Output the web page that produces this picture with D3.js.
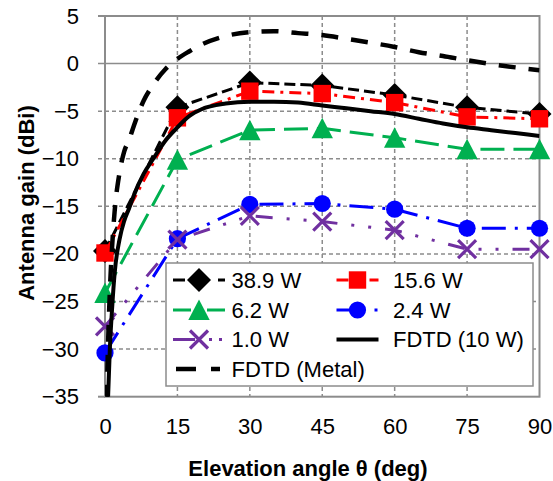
<!DOCTYPE html>
<html><head><meta charset="utf-8">
<script src="https://cdn.jsdelivr.net/npm/d3@7"></script>
<style>
html,body{margin:0;padding:0;background:#fff;}
text{font-family:"Liberation Sans",Arial,sans-serif;}
</style></head>
<body>
<svg id="chart" width="553" height="481"></svg>
<script>
// ---- data ----
const angles = [0, 15, 30, 45, 60, 75, 90];
const gain389 = [-19.7, -4.6, -2.0, -2.3, -3.3, -4.6, -5.3];
const gain156 = [-19.9, -5.7, -2.9, -3.15, -4.1, -5.6, -5.8];
const gain62  = [-24.1, -10.1, -7.0, -6.8, -7.8, -9.0, -9.0];
const gain24  = [-30.4, -18.4, -14.8, -14.7, -15.3, -17.3, -17.3];
const gain10  = [-27.6, -18.5, -16.0, -16.6, -17.5, -19.5, -19.5];

const fdtdAngles = [0, 0.5, 1, 1.5, 2, 3, 4, 5, 6, 8, 10, 12.5, 15, 17.5, 20, 25, 30, 35, 40, 45, 50, 55, 60, 65, 70, 75, 80, 85, 90];
const fdtd10W  = [-45, -37, -30, -25.5, -22, -18.5, -16.5, -15.2, -13.8, -11.6, -10, -8.1, -6.7, -5.5, -4.8, -4.2, -4.0, -4.0, -4.1, -4.4, -4.7, -5.0, -5.3, -5.8, -6.3, -6.7, -7.0, -7.3, -7.6];
const fdtdMetal = [-45, -32, -24, -19, -15.5, -11.5, -9.2, -8.0, -6.5, -3.9, -2.2, -0.6, 0.5, 1.3, 2.0, 2.9, 3.3, 3.4, 3.2, 3.0, 2.6, 2.2, 1.75, 1.2, 0.8, 0.35, -0.05, -0.4, -0.7];

const xTicks = [0, 15, 30, 45, 60, 75, 90];
const yTicks = [-35, -30, -25, -20, -15, -10, -5, 0, 5];

const seriesNames = ["38.9 W", "15.6 W", "6.2 W", "2.4 W", "1.0 W", "FDTD (10 W)", "FDTD (Metal)"];

// ---- layout ----
const svg = d3.select("#chart");
const L = 105, R = 539.5, T = 16, B = 396.7;
const x = d3.scaleLinear().domain([0, 90]).range([L, R]);
const y = d3.scaleLinear().domain([-35, 5]).range([B, T]);
const grid = "#8c8c8c";

svg.append("defs").append("clipPath").attr("id", "clip")
  .append("rect").attr("x", L).attr("y", T).attr("width", R - L).attr("height", B - T);

// gridlines
const g = svg.append("g");
g.selectAll(".hg").data(yTicks.filter(v => v !== -35 && v !== 5)).enter().append("line")
  .attr("x1", L - 7).attr("x2", R).attr("y1", d => y(d)).attr("y2", d => y(d))
  .attr("stroke", grid).attr("stroke-width", 1.5)
  .attr("stroke-dasharray", d => d === 0 ? null : "4,3");
g.selectAll(".vg").data(xTicks.filter(v => v !== 0 && v !== 90)).enter().append("line")
  .attr("x1", d => x(d)).attr("x2", d => x(d)).attr("y1", T).attr("y2", B)
  .attr("stroke", grid).attr("stroke-width", 1.5).attr("stroke-dasharray", "4,3");
// frame
g.append("rect").attr("x", L).attr("y", T).attr("width", R - L).attr("height", B - T)
  .attr("fill", "none").attr("stroke", grid).attr("stroke-width", 2);
g.selectAll(".tk").data([-35, 5]).enter().append("line")
  .attr("x1", L - 7).attr("x2", L).attr("y1", d => y(d)).attr("y2", d => y(d))
  .attr("stroke", grid).attr("stroke-width", 2);

// axes labels
const yAxis = d3.axisLeft(y).tickValues(yTicks).tickSize(0).tickPadding(26);
svg.append("g").attr("transform", `translate(${L},0)`).call(yAxis)
  .call(s => s.select(".domain").remove())
  .selectAll("text").attr("font-size", 22).attr("fill", "#000")
  .style("font-family", '"Liberation Sans",Arial,sans-serif');
const xAxis = d3.axisBottom(x).tickValues(xTicks).tickSize(0).tickPadding(22);
svg.append("g").attr("transform", `translate(0,${B})`).call(xAxis)
  .call(s => s.select(".domain").remove())
  .selectAll("text").attr("font-size", 22).attr("fill", "#000")
  .style("font-family", '"Liberation Sans",Arial,sans-serif');

svg.append("text").attr("x", 308).attr("y", 476).attr("text-anchor", "middle")
  .attr("font-size", 22).attr("font-weight", "bold").text("Elevation angle θ (deg)");
svg.append("text").attr("transform", "translate(34,203) rotate(-90)").attr("text-anchor", "middle")
  .attr("font-size", 22).attr("font-weight", "bold").text("Antenna gain (dBi)");

// ---- series ----
const styles = [
  {color: "#000000", dash: "11,5", w: 3, marker: "diamond", leg: "12,33,7,10"},
  {color: "#FF0000", dash: "12,6,3,6", w: 3, marker: "square", leg: "12,21,9,10"},
  {color: "#00B050", dash: "24,9", w: 3, marker: "triangle", leg: "18,16,18"},
  {color: "#0000FF", dash: "24,9,3,9", w: 3, marker: "circle", leg: "18,20,3,10"},
  {color: "#7030A0", dash: "17,14,3,14,3,14", w: 3, marker: "x", leg: "22,14,3,7,3,10"},
  {color: "#000000", dash: null, w: 4, marker: null, leg: null},
  {color: "#000000", dash: "17,13", w: 4.5, marker: null, leg: "20,15,9,20"}
];
const measured = [gain389, gain156, gain62, gain24, gain10];
const lineLin = d3.line().x(d => x(d[0])).y(d => y(d[1]));
const lineSmooth = d3.line().x(d => x(d[0])).y(d => y(d[1])).curve(d3.curveMonotoneX);

function drawMarker(sel, type, color, cx, cy) {
  if (type === "diamond") {
    sel.append("path").attr("d", `M${cx},${cy-12}L${cx+12},${cy}L${cx},${cy+12}L${cx-12},${cy}Z`).attr("fill", color);
  } else if (type === "square") {
    sel.append("rect").attr("x", cx - 8.7).attr("y", cy - 8.7).attr("width", 17.4).attr("height", 17.4).attr("fill", color);
  } else if (type === "triangle") {
    sel.append("path").attr("d", `M${cx},${cy-10.5}L${cx+10.7},${cy+10}L${cx-10.7},${cy+10}Z`).attr("fill", color);
  } else if (type === "circle") {
    sel.append("circle").attr("cx", cx).attr("cy", cy).attr("r", 8.6).attr("fill", color);
  } else if (type === "x") {
    sel.append("path").attr("d", `M${cx-9},${cy-9}L${cx+9},${cy+9}M${cx+9},${cy-9}L${cx-9},${cy+9}`)
      .attr("stroke", color).attr("stroke-width", 3.2).attr("fill", "none");
  }
}

measured.forEach((vals, i) => {
  const st = styles[i];
  const pts = angles.map((a, k) => [a, vals[k]]);
  const gi = svg.append("g");
  gi.append("path").attr("d", lineLin(pts)).attr("fill", "none").attr("stroke", st.color)
    .attr("stroke-width", st.w).attr("stroke-dasharray", st.dash).attr("clip-path", "url(#clip)");
  pts.forEach(p => drawMarker(gi, st.marker, st.color, x(p[0]), y(p[1])));
});
const plot = svg.append("g").attr("clip-path", "url(#clip)");
[fdtd10W, fdtdMetal].forEach((vals, j) => {
  const st = styles[5 + j];
  const pts = fdtdAngles.map((a, k) => [a, vals[k]]);
  plot.append("path").attr("d", lineSmooth(pts)).attr("fill", "none").attr("stroke", st.color)
    .attr("stroke-width", st.w).attr("stroke-dasharray", st.dash);
});

// ---- legend ----
const lg = svg.append("g");
lg.append("rect").attr("x", 166).attr("y", 263).attr("width", 367).attr("height", 123)
  .attr("fill", "#fff").attr("stroke", grid).attr("stroke-width", 1.5);
const rowsY = [280, 310, 339.5, 369];
const colX = [{x0: 173, x1: 225, tx: 231.5}, {x0: 336.5, x1: 378.5, tx: 393}];
seriesNames.forEach((name, i) => {
  const row = Math.floor(i / 2), col = i % 2;
  const c = colX[col], cy = rowsY[row], st = styles[i];
  const x0 = i === 6 ? 176 : c.x0;
  lg.append("line").attr("x1", x0).attr("x2", c.x1).attr("y1", cy).attr("y2", cy)
    .attr("stroke", st.color).attr("stroke-width", st.w)
    .attr("stroke-dasharray", st.leg);
  if (st.marker) drawMarker(lg, st.marker, st.color, (c.x0 + c.x1) / 2, cy);
  lg.append("text").attr("x", c.tx).attr("y", cy + 7.8).attr("font-size", 22).text(name);
});
</script>
</body></html>
